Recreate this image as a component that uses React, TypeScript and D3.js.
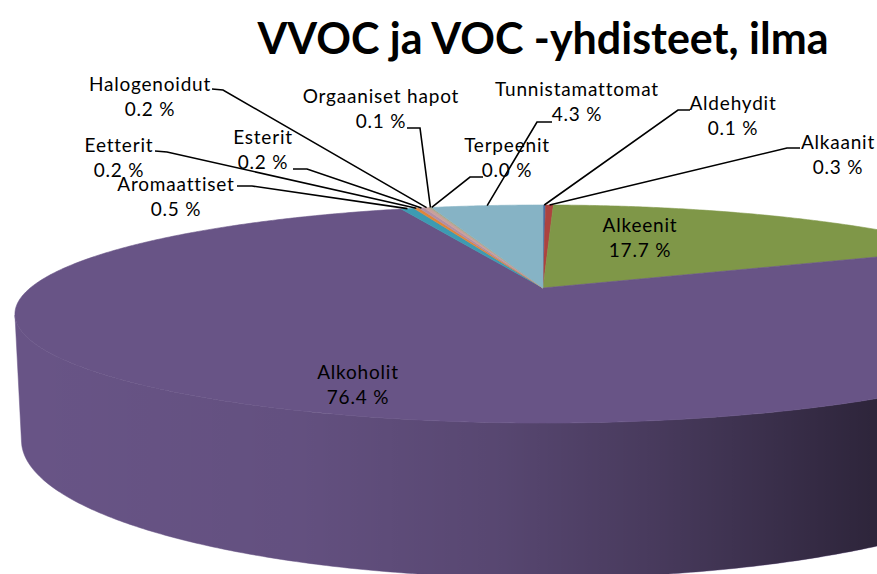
import React, { useEffect, useRef } from "react";
import * as d3 from "d3";

// data
const categories = [
  "Aldehydit",
  "Alkaanit",
  "Alkeenit",
  "Alkoholit",
  "Aromaattiset",
  "Eetterit",
  "Esterit",
  "Halogenoidut",
  "Orgaaniset hapot",
  "Terpeenit",
  "Tunnistamattomat",
];
const values = [0.1, 0.3, 17.7, 76.4, 0.5, 0.2, 0.2, 0.2, 0.1, 0.0, 4.3];
const colors = [
  "#4a6ea3",
  "#ad433f",
  "#7f9748",
  "#685486",
  "#3d9bb2",
  "#e0853a",
  "#b08fa6",
  "#c9a09c",
  "#a9a78c",
  "#9c8fb8",
  "#86b3c5",
];

// label box centres and leader elbows (layout only)
const labelLayout: { cx: number; cy: number; leader?: [number, number, number, number] }[] = [
  { cx: 733, cy: 103, leader: [690, 110, 678, 110] },
  { cx: 838, cy: 142, leader: [800, 148, 787, 148] },
  { cx: 640, cy: 225 },
  { cx: 358, cy: 372 },
  { cx: 176, cy: 184, leader: [237, 186, 252, 186] },
  { cx: 119, cy: 145, leader: [155, 151, 167, 152] },
  { cx: 263, cy: 137, leader: [293, 169, 307, 169] },
  { cx: 150, cy: 84, leader: [212, 89, 223, 90] },
  { cx: 381, cy: 96, leader: [407, 128, 420, 128] },
  { cx: 507, cy: 145, leader: [483, 177, 470, 177] },
  { cx: 577, cy: 89, leader: [552, 122, 537, 122] },
];

const title = "VVOC ja VOC -yhdisteet, ilma";

const W = 877;
const H = 574;

export default function App() {
  const ref = useRef<SVGSVGElement>(null);

  useEffect(() => {
    const svg = d3.select(ref.current);
    svg.selectAll("*").remove();

    // simple perspective camera for the 3d pie
    const cx = 543,
      cy = 288,
      focal = 2105,
      dist = 4.105,
      elev = Math.asin(0.2005),
      thick = 0.2416;

    const proj = (a: number, yw: number): [number, number] => {
      const x3 = Math.sin(a);
      const z3 = -Math.cos(a);
      const yc = yw * Math.cos(elev) - z3 * Math.sin(elev);
      const depth = dist - (yw * Math.sin(elev) + z3 * Math.cos(elev));
      return [cx + (focal * x3) / depth, cy - (focal * yc) / depth];
    };

    const arcPts = (a0: number, a1: number, yw: number) => {
      const n = Math.max(2, Math.ceil(((a1 - a0) * 180) / Math.PI) * 2);
      return d3.range(n + 1).map((i) => proj(a0 + ((a1 - a0) * i) / n, yw));
    };

    const pie = d3
      .pie<number>()
      .sort(null)
      .startAngle(0)
      .endAngle(2 * Math.PI)
      .value((d) => d);
    const arcs = pie(values);

    const line = d3.line().curve(d3.curveLinearClosed);

    const defs = svg.append("defs");
    const grad = defs
      .append("linearGradient")
      .attr("id", "shade")
      .attr("gradientUnits", "userSpaceOnUse")
      .attr("x1", 30)
      .attr("x2", 1070)
      .attr("y1", 0)
      .attr("y2", 0);
    [
      [0, 0],
      [0.26, 0.05],
      [0.45, 0.16],
      [0.6, 0.31],
      [0.81, 0.56],
      [1, 0.7],
    ].forEach(([o, op]) =>
      grad.append("stop").attr("offset", o).attr("stop-color", "#000").attr("stop-opacity", op)
    );

    // side wall: only the part that faces the camera
    const limit = Math.acos(-1 / (dist * Math.cos(elev)));
    const faceA0 = limit,
      faceA1 = 2 * Math.PI - limit;
    const side = svg.append("g");
    arcs.forEach((d, i) => {
      const a0 = Math.max(d.startAngle, faceA0);
      const a1 = Math.min(d.endAngle, faceA1);
      if (a1 <= a0) return;
      const pts = arcPts(a0, a1, 0).concat(arcPts(a0, a1, -thick).reverse());
      side
        .append("path")
        .attr("d", line(pts))
        .attr("fill", colors[i])
        .attr("stroke", colors[i])
        .attr("stroke-width", 0.5);
      side.append("path").attr("d", line(pts)).attr("fill", "url(#shade)");
    });

    // top face
    const top = svg.append("g");
    arcs.forEach((d, i) => {
      if (d.endAngle - d.startAngle <= 0) return;
      const pts = [[cx, cy] as [number, number]].concat(arcPts(d.startAngle, d.endAngle, 0));
      top
        .append("path")
        .attr("d", line(pts))
        .attr("fill", colors[i])
        .attr("stroke", colors[i])
        .attr("stroke-width", 0.6)
        .attr("stroke-linejoin", "round");
    });

    // leader lines
    const leaders = svg
      .append("g")
      .attr("fill", "none")
      .attr("stroke", "#000")
      .attr("stroke-width", 1.6);
    arcs.forEach((d, i) => {
      const lay = labelLayout[i];
      if (!lay.leader) return;
      const mid = (d.startAngle + d.endAngle) / 2;
      const end = proj(mid, 0);
      const [sx, sy, ex, ey] = lay.leader;
      leaders.append("path").attr("d", d3.line()([[sx, sy], [ex, ey], end]));
    });

    // labels
    const labels = svg
      .append("g")
      .attr("font-family", "Lato, 'Open Sans', sans-serif")
      .attr("font-size", 19)
      .attr("letter-spacing", 0.8)
      .attr("fill", "#000")
      .attr("text-anchor", "middle");
    arcs.forEach((d, i) => {
      const lay = labelLayout[i];
      labels.append("text").attr("x", lay.cx).attr("y", lay.cy + 7).text(categories[i]);
      labels
        .append("text")
        .attr("x", lay.cx)
        .attr("y", lay.cy + 32)
        .text(values[i].toFixed(1) + " %");
    });

    svg
      .append("text")
      .attr("x", 543)
      .attr("y", 54)
      .attr("text-anchor", "middle")
      .attr("font-family", "Lato, sans-serif")
      .attr("font-weight", "bold")
      .attr("font-size", 43)
      .attr("fill", "#000")
      .text(title);
  }, []);

  return (
    <svg
      ref={ref}
      width={W}
      height={H}
      style={{ position: "absolute", left: 0, top: 0, background: "#fff", overflow: "hidden" }}
    />
  );
}
